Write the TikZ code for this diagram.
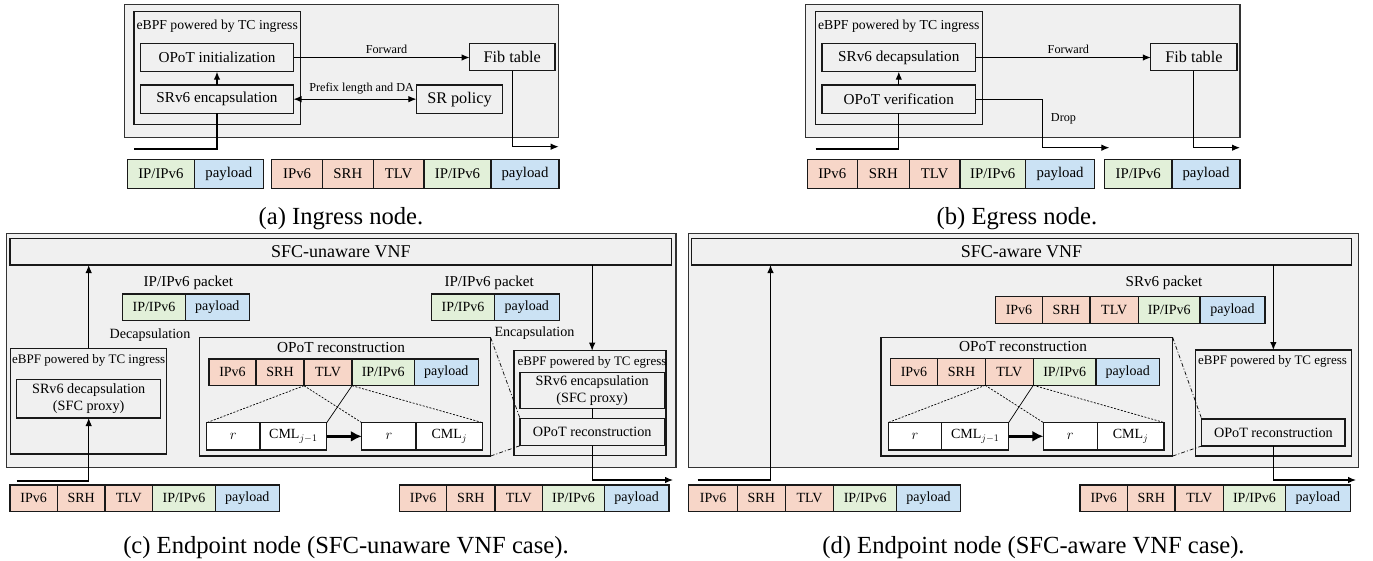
\documentclass[tikz,border=0pt]{standalone}
\usepackage{fontspec}
\setmainfont{Liberation Serif}
\usetikzlibrary{arrows.meta,calc}

\definecolor{panelgray}{RGB}{240,240,240}
\definecolor{hdrred}{RGB}{247,214,200}
\definecolor{ipgreen}{RGB}{226,240,217}
\definecolor{paybl}{RGB}{203,226,244}

% box from its left, top, right and bottom edges: style, x1, y1, x2, y2, name
\newcommand\mkbox[6]{\node[#1,minimum width={#4pt-#2pt},minimum height={#5pt-#3pt}] (#6) at ({(#2+#4)/2},{(#3+#5)/2})}

\tikzset{
  panel/.style={draw=black!80, line width=1.4pt, fill=panelgray, inner sep=0pt, outer sep=0pt},
  gbox/.style={draw=black!90, line width=1.2pt, fill=panelgray, inner sep=0pt, outer sep=0pt},
  wbox/.style={gbox, fill=white},
  hdr/.style={gbox, fill=hdrred},
  ipb/.style={gbox, fill=ipgreen},
  payb/.style={gbox, fill=paybl},
  lbl/.style={inner sep=0pt, outer sep=0pt},
  conn/.style={line width=1.1pt, draw=black},
  arr/.style={conn, -{Latex[length=8pt,width=6.5pt]}},
  darr/.style={conn, {Latex[length=8pt,width=6.5pt]}-{Latex[length=8pt,width=6.5pt]}},
  bigarr/.style={line width=3pt, -{Latex[length=11pt,width=11pt]}},
  thinln/.style={line width=0.7pt},
  finedash/.style={thinln, dash pattern=on 2pt off 1.5pt},
  dashdot/.style={thinln, dash pattern=on 4pt off 2pt on 1pt off 2pt},
  fA1/.style={font=\fontsize{15.2pt}{18pt}\selectfont},
  fA2/.style={font=\fontsize{16.2pt}{19pt}\selectfont},
  fA3/.style={font=\fontsize{13.7pt}{16pt}\selectfont},
  fA4/.style={font=\fontsize{12.2pt}{14pt}\selectfont},
  fAp/.style={font=\fontsize{14.8pt}{17pt}\selectfont},
  fVNF/.style={font=\fontsize{18pt}{21pt}\selectfont},
  fC1/.style={font=\fontsize{14.2pt}{16.6pt}\selectfont, align=center},
  fC3/.style={font=\fontsize{13pt}{15pt}\selectfont},
  fC4/.style={font=\fontsize{14.1pt}{17pt}\selectfont},
  fC5/.style={font=\fontsize{15.1pt}{18pt}\selectfont},
  fC6/.style={font=\fontsize{15.3pt}{18pt}\selectfont},
  fCp/.style={font=\fontsize{14pt}{17pt}\selectfont},
  fcap/.style={font=\fontsize{24.6pt}{29pt}\selectfont, inner sep=0pt, anchor=base},
}

\begin{document}
\begin{tikzpicture}[x=1pt,y=-1pt]
\useasboundingbox (0,0) rectangle (1373,560);

% ---------------- (a) Ingress node ----------------
\mkbox{panel}{124.5}{4.5}{558.7}{137.3}{apanel}{};
\mkbox{gbox}{134}{11.7}{300.4}{124.3}{aebpf}{};
\node[lbl,fA3] (aebpfl) at (217.2,26.7) {eBPF powered by TC ingress};
\mkbox{gbox,fA1}{140.5}{43.3}{293.5}{71.7}{ainit}{OPoT initialization};
\mkbox{gbox,fA1}{140.5}{85}{293.5}{113.3}{aenc}{SRv6 encapsulation};
\mkbox{gbox,fA2}{469.6}{43.3}{554.9}{70.7}{afib}{Fib table};
\mkbox{gbox,fA2}{416.4}{85}{502.5}{113.3}{apol}{SR policy};
\node[lbl,fA4] (afwdl) at (386.5,49.3) {Forward};
\node[lbl,fA4] (aprefl) at (361.6,88.3) {Prefix length and DA};

\draw[arr] (aenc) -- (ainit);
\draw[arr] (ainit.east) -- (ainit.east -| afib.west);
\draw[darr] (aenc) -- (apol);
\coordinate (ain) at (134,149);
\draw[conn] (ain) -| (aenc.south);
\coordinate (aout) at (558.7,146.7);
\draw[arr] (afib.south) |- (aout);

\mkbox{ipb,fAp}{127.4}{159.3}{194.4}{188.3}{apk1}{IP/IPv6};
\mkbox{payb,fAp}{194.4}{159.3}{263.3}{188.3}{apk2}{payload};
\mkbox{hdr,fAp}{271.7}{159.3}{322.6}{188.3}{apk3}{IPv6};
\mkbox{hdr,fAp}{322.6}{159.3}{373.1}{188.3}{apk4}{SRH};
\mkbox{hdr,fAp}{373.1}{159.3}{424}{188.3}{apk5}{TLV};
\mkbox{ipb,fAp}{424}{159.3}{491}{188.3}{apk6}{IP/IPv6};
\mkbox{payb,fAp}{491}{159.3}{559}{188.3}{apk7}{payload};

\node[fcap] (acap) at (341,224) {(a) Ingress node.};

% ---------------- (b) Egress node ----------------
\mkbox{panel}{805.6}{4.5}{1240}{137.3}{bpanel}{};
\mkbox{gbox}{815.5}{11.7}{982.1}{124.3}{bebpf}{};
\node[lbl,fA3] (bebpfl) at (898.8,26.7) {eBPF powered by TC ingress};
\mkbox{gbox,fA1}{821.9}{43.3}{975.7}{71.7}{bdec}{SRv6 decapsulation};
\mkbox{gbox,fA1}{821.9}{85}{975.7}{113.3}{bver}{OPoT verification};
\mkbox{gbox,fA2}{1150.8}{43.3}{1237}{70.7}{bfib}{Fib table};
\node[lbl,fA4] (bfwdl) at (1068.4,49.3) {Forward};
\node[lbl,fA4] (bdropl) at (1063.5,119) {Drop};

\draw[arr] (bver) -- (bdec);
\draw[arr] (bdec.east) -- (bdec.east -| bfib.west);
\coordinate (bdturn) at (1042.3,147.7);
\coordinate (bdrop) at (1109.4,147.7);
\draw[arr] (bver.east) -| (bdturn) -- (bdrop);
\coordinate (bin) at (815.5,149);
\draw[conn] (bin) -| (bver.south);
\coordinate (bout) at (1240,147.7);
\draw[arr] (bfib.south) |- (bout);

\mkbox{hdr,fAp}{807.1}{159.3}{857.4}{188.3}{bpk1}{IPv6};
\mkbox{hdr,fAp}{857.4}{159.3}{909.2}{188.3}{bpk2}{SRH};
\mkbox{hdr,fAp}{909.2}{159.3}{960}{188.3}{bpk3}{TLV};
\mkbox{ipb,fAp}{960}{159.3}{1025.5}{188.3}{bpk4}{IP/IPv6};
\mkbox{payb,fAp}{1025.5}{159.3}{1094.6}{188.3}{bpk5}{payload};
\mkbox{ipb,fAp}{1104.4}{159.3}{1172}{188.3}{bpk6}{IP/IPv6};
\mkbox{payb,fAp}{1172}{159.3}{1240}{188.3}{bpk7}{payload};

\node[fcap] (bcap) at (1017,224) {(b) Egress node.};

% ---------------- (c) Endpoint node, SFC-unaware VNF ----------------
\mkbox{panel}{6.7}{233.3}{676}{467.7}{cpanel}{};
\mkbox{gbox,fVNF}{10}{238.3}{671.7}{265}{cvnf}{SFC-unaware VNF};

\node[lbl,fC5] (cpk1l) at (188.3,282.5) {IP/IPv6 packet};
\mkbox{ipb,fCp}{122.7}{294}{185.3}{320.7}{cpa1}{IP/IPv6};
\mkbox{payb,fCp}{185.3}{294}{249.3}{320.7}{cpa2}{payload};
\node[lbl,fC4] (cdecl) at (150,335) {Decapsulation};

\mkbox{gbox}{10.7}{348.3}{166.7}{454}{cebpfin}{};
\node[lbl,fC3] (cebpfinl) at (88.7,360) {eBPF powered by TC ingress};
\mkbox{gbox,fC1}{16.7}{379.3}{160.7}{418}{cdec}{SRv6 decapsulation\\(SFC proxy)};

\mkbox{gbox}{199.5}{337.7}{490.7}{456}{crec}{};
\node[lbl,fC6] (crecl) at (341,347.3) {OPoT reconstruction};
\mkbox{hdr,fCp}{209}{359}{256}{385.7}{crp1}{IPv6};
\mkbox{hdr,fCp}{256}{359}{304}{385.7}{crp2}{SRH};
\mkbox{hdr,fCp}{304}{359}{352}{385.7}{crp3}{TLV};
\mkbox{ipb,fCp}{352}{359}{414.3}{385.7}{crp4}{IP/IPv6};
\mkbox{payb,fCp}{414.3}{359}{478.3}{385.7}{crp5}{payload};
\mkbox{wbox,fCp}{206.7}{422.7}{260}{450}{cr1}{$r$};
\mkbox{wbox,fCp}{260}{422.7}{326.7}{450}{ccml1}{CML$_{j-1}$};
\mkbox{wbox,fCp}{361.8}{422.7}{416}{450}{cr2}{$r$};
\mkbox{wbox,fCp}{416}{422.7}{482.7}{450}{ccml2}{CML$_{j}$};

\node[lbl,fC5] (cpk2l) at (489.2,282.5) {IP/IPv6 packet};
\mkbox{ipb,fCp}{431.7}{294}{494.3}{320.7}{cpb1}{IP/IPv6};
\mkbox{payb,fCp}{494.3}{294}{559.3}{320.7}{cpb2}{payload};
\node[lbl,fC4] (cencl) at (534.5,333.3) {Encapsulation};

\mkbox{gbox}{514}{350.7}{666}{455.5}{cegr}{};
\node[lbl,fC3] (cegrl) at (592,362.3) {eBPF powered by TC egress};
\mkbox{gbox,fC1}{520}{372.3}{664.3}{408.3}{cenc}{SRv6 encapsulation\\(SFC proxy)};
\mkbox{gbox,fC1}{520}{418.3}{664.3}{445.7}{copot}{OPoT reconstruction};

\draw[bigarr] (ccml1) -- (cr2);
\draw[finedash] (crp3.south west) -- (cr1.north west);
\draw[thinln] (crp3.south east) -- (ccml1.north east);
\draw[finedash] (crp3.south west) -- (cr2.north west);
\draw[finedash] (crp3.south east) -- (ccml2.north east);
\draw[dashdot] (crec.north east) -- (copot.north west);
\draw[dashdot] (crec.south east) -- (copot.south west);

\draw[arr] (cebpfin.north) -- (cebpfin.north |- cvnf.south);
\draw[arr] (cenc.north |- cvnf.south) -- (cenc.north |- cegr.north);
\draw[conn] (cenc) -- (copot);
\coordinate (cin) at (16.7,481);
\draw[arr] (cin) -| (cdec.south);
\coordinate (cout) at (673,480);
\draw[arr] (copot.south) |- (cout);

\mkbox{hdr,fCp}{10}{485}{57.3}{511.7}{cq1}{IPv6};
\mkbox{hdr,fCp}{57.3}{485}{105}{511.7}{cq2}{SRH};
\mkbox{hdr,fCp}{105}{485}{152.7}{511.7}{cq3}{TLV};
\mkbox{ipb,fCp}{152.7}{485}{215.3}{511.7}{cq4}{IP/IPv6};
\mkbox{payb,fCp}{215.3}{485}{279.3}{511.7}{cq5}{payload};
\mkbox{hdr,fCp}{399.6}{485}{446.7}{511.7}{cs1}{IPv6};
\mkbox{hdr,fCp}{446.7}{485}{495}{511.7}{cs2}{SRH};
\mkbox{hdr,fCp}{495}{485}{542.7}{511.7}{cs3}{TLV};
\mkbox{ipb,fCp}{542.7}{485}{604.3}{511.7}{cs4}{IP/IPv6};
\mkbox{payb,fCp}{604.3}{485}{669}{511.7}{cs5}{payload};

\node[fcap] (ccap) at (346,553) {(c) Endpoint node (SFC-unaware VNF case).};

% ---------------- (d) Endpoint node, SFC-aware VNF ----------------
\mkbox{panel}{688.7}{233.3}{1358.3}{467.7}{dpanel}{};
\mkbox{gbox,fVNF}{691.3}{238.3}{1351.7}{265}{dvnf}{SFC-aware VNF};

\node[lbl,fC5] (dpkl) at (1164,283.3) {SRv6 packet};
\mkbox{hdr,fCp}{995.3}{296.7}{1042.7}{323.3}{dpa1}{IPv6};
\mkbox{hdr,fCp}{1042.7}{296.7}{1090}{323.3}{dpa2}{SRH};
\mkbox{hdr,fCp}{1090}{296.7}{1138.3}{323.3}{dpa3}{TLV};
\mkbox{ipb,fCp}{1138.3}{296.7}{1200}{323.3}{dpa4}{IP/IPv6};
\mkbox{payb,fCp}{1200}{296.7}{1265}{323.3}{dpa5}{payload};

\mkbox{gbox}{881}{337.5}{1172.7}{456}{drec}{};
\node[lbl,fC6] (drecl) at (1023,346.7) {OPoT reconstruction};
\mkbox{hdr,fCp}{890.3}{358.5}{937.7}{385.3}{drp1}{IPv6};
\mkbox{hdr,fCp}{937.7}{358.5}{985.3}{385.3}{drp2}{SRH};
\mkbox{hdr,fCp}{985.3}{358.5}{1033.3}{385.3}{drp3}{TLV};
\mkbox{ipb,fCp}{1033.3}{358.5}{1096}{385.3}{drp4}{IP/IPv6};
\mkbox{payb,fCp}{1096}{358.5}{1159.3}{385.3}{drp5}{payload};
\mkbox{wbox,fCp}{888.3}{422.5}{941.7}{450}{dr1}{$r$};
\mkbox{wbox,fCp}{941.7}{422.5}{1008.7}{450}{dcml1}{CML$_{j-1}$};
\mkbox{wbox,fCp}{1043.3}{422.5}{1097.3}{450}{dr2}{$r$};
\mkbox{wbox,fCp}{1097.3}{422.5}{1164}{450}{dcml2}{CML$_{j}$};

\mkbox{gbox}{1195.7}{350}{1351.7}{456}{degr}{};
\node[lbl,fC3] (degrl) at (1272.5,361.7) {eBPF powered by TC egress};
\mkbox{gbox,fC1}{1201.7}{419}{1345}{446}{dopot}{OPoT reconstruction};

\draw[bigarr] (dcml1) -- (dr2);
\draw[finedash] (drp3.south west) -- (dr1.north west);
\draw[thinln] (drp3.south east) -- (dcml1.north east);
\draw[finedash] (drp3.south west) -- (dr2.north west);
\draw[finedash] (drp3.south east) -- (dcml2.north east);
\draw[dashdot] (drec.north east) -- (dopot.north west);
\draw[dashdot] (drec.south east) -- (dopot.south west);

\draw[arr] (dopot.north |- dvnf.south) -- (dopot.north |- degr.north);
\coordinate (din) at (697.7,480);
\coordinate (dturn) at (770.5,480);
\draw[arr] (din) -- (dturn) -- (dturn |- dvnf.south);
\coordinate (dout) at (1356,480);
\draw[arr] (dopot.south) |- (dout);

\mkbox{hdr,fCp}{688.8}{485}{737.4}{511.7}{dq1}{IPv6};
\mkbox{hdr,fCp}{737.4}{485}{785.2}{511.7}{dq2}{SRH};
\mkbox{hdr,fCp}{785.2}{485}{833.8}{511.7}{dq3}{TLV};
\mkbox{ipb,fCp}{833.8}{485}{896.5}{511.7}{dq4}{IP/IPv6};
\mkbox{payb,fCp}{896.5}{485}{960.6}{511.7}{dq5}{payload};
\mkbox{hdr,fCp}{1079.9}{485}{1127.6}{511.7}{ds1}{IPv6};
\mkbox{hdr,fCp}{1127.6}{485}{1174.9}{511.7}{ds2}{SRH};
\mkbox{hdr,fCp}{1174.9}{485}{1223.5}{511.7}{ds3}{TLV};
\mkbox{ipb,fCp}{1223.5}{485}{1285.4}{511.7}{ds4}{IP/IPv6};
\mkbox{payb,fCp}{1285.4}{485}{1350.3}{511.7}{ds5}{payload};

\node[fcap] (dcap) at (1033.5,553) {(d) Endpoint node (SFC-aware VNF case).};
\end{tikzpicture}
\end{document}
